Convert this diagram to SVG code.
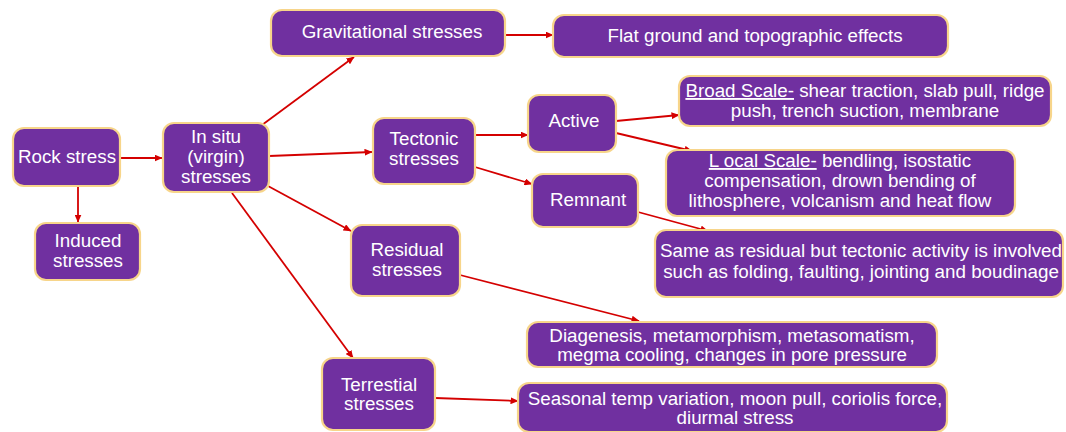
<svg xmlns="http://www.w3.org/2000/svg" width="1066" height="432" viewBox="0 0 1066 432">
<defs>
<marker id="ah" markerUnits="userSpaceOnUse" markerWidth="8" markerHeight="7" refX="7.5" refY="3.5" orient="auto">
<path d="M0,0 L8,3.5 L0,7 Z" fill="#D40000"/>
</marker>
</defs>
<style>
.box{fill:#7030A0;stroke:#F7D58A;stroke-width:2.2}
.t{font-family:"Liberation Sans",Arial,sans-serif;font-size:18.8px;fill:#FFFFFF;text-anchor:middle}
.u{text-decoration:underline}
.c{stroke:#D40000;stroke-width:1.8;fill:none;marker-end:url(#ah)}
</style>
<rect width="1066" height="432" fill="#FFFFFF"/>
<g id="connectors">
<line class="c" x1="78" y1="186" x2="78" y2="222"/>
<line class="c" x1="120" y1="158" x2="162" y2="158"/>
<line class="c" x1="262" y1="125" x2="354" y2="57"/>
<line class="c" x1="269" y1="156" x2="372" y2="152"/>
<line class="c" x1="268" y1="186" x2="351" y2="231"/>
<line class="c" x1="232" y1="193" x2="353" y2="358"/>
<line class="c" x1="505" y1="35" x2="553" y2="35"/>
<line class="c" x1="475" y1="135" x2="528" y2="135"/>
<line class="c" x1="475" y1="167" x2="532" y2="184"/>
<line class="c" x1="616" y1="121" x2="679" y2="115"/>
<line class="c" x1="616" y1="133" x2="692" y2="151"/>
<line class="c" x1="638" y1="212" x2="708" y2="231"/>
<line class="c" x1="460" y1="275" x2="639" y2="321"/>
<line class="c" x1="435" y1="398" x2="518" y2="401"/>
</g>
<g id="rock">
<rect class="box" x="13" y="128" width="107" height="58" rx="11"/>
<text class="t" x="67" y="163">Rock stress</text>
</g>
<g id="induced">
<rect class="box" x="35" y="223" width="105" height="57" rx="11"/>
<text class="t" x="88" y="247">Induced</text>
<text class="t" x="88" y="267">stresses</text>
</g>
<g id="insitu">
<rect class="box" x="163" y="123" width="106" height="69" rx="11"/>
<text class="t" x="216" y="143">In situ</text>
<text class="t" x="216" y="163">(virgin)</text>
<text class="t" x="216" y="183">stresses</text>
</g>
<g id="gravitational">
<rect class="box" x="271" y="10" width="234" height="46" rx="11"/>
<text class="t" x="392" y="38">Gravitational stresses</text>
</g>
<g id="flat">
<rect class="box" x="553" y="15" width="395" height="42" rx="11"/>
<text class="t" x="755" y="42">Flat ground and topographic effects</text>
</g>
<g id="tectonic">
<rect class="box" x="373" y="118" width="102" height="66" rx="11"/>
<text class="t" x="424" y="145">Tectonic</text>
<text class="t" x="424" y="165">stresses</text>
</g>
<g id="active">
<rect class="box" x="528" y="95" width="88" height="57" rx="11"/>
<text class="t" x="574" y="127">Active</text>
</g>
<g id="remnant">
<rect class="box" x="532" y="174" width="106" height="53" rx="11"/>
<text class="t" x="588" y="206">Remnant</text>
</g>
<g id="broad">
<rect class="box" x="679" y="76" width="372" height="50" rx="11"/>
<text class="t" x="865" y="97"><tspan class="u">Broad Scale-</tspan> shear traction, slab pull, ridge</text>
<text class="t" x="865" y="117">push, trench suction, membrane</text>
</g>
<g id="local">
<rect class="box" x="666" y="150" width="349" height="66" rx="11"/>
<text class="t" x="840" y="167"><tspan class="u">L ocal Scale-</tspan> bendling, isostatic</text>
<text class="t" x="840" y="187">compensation, drown bending of</text>
<text class="t" x="840" y="207">lithosphere, volcanism and heat flow</text>
</g>
<g id="sameas">
<rect class="box" x="655" y="230" width="408" height="67" rx="11"/>
<text class="t" x="861" y="257">Same as residual but tectonic activity is involved</text>
<text class="t" x="861" y="278">such as folding, faulting, jointing and boudinage</text>
</g>
<g id="residual">
<rect class="box" x="351" y="225" width="109" height="71" rx="11"/>
<text class="t" x="407" y="256">Residual</text>
<text class="t" x="407" y="276">stresses</text>
</g>
<g id="diagenesis">
<rect class="box" x="527" y="322" width="410" height="45" rx="11"/>
<text class="t" x="732" y="342">Diagenesis, metamorphism, metasomatism,</text>
<text class="t" x="732" y="361">megma cooling, changes in pore pressure</text>
</g>
<g id="terrestial">
<rect class="box" x="322" y="358" width="113" height="72" rx="11"/>
<text class="t" x="379" y="391">Terrestial</text>
<text class="t" x="379" y="410">stresses</text>
</g>
<g id="seasonal">
<rect class="box" x="518" y="383" width="429" height="49" rx="11"/>
<text class="t" x="735" y="405">Seasonal temp variation, moon pull, coriolis force,</text>
<text class="t" x="735" y="424">diurmal stress</text>
</g>
</svg>
